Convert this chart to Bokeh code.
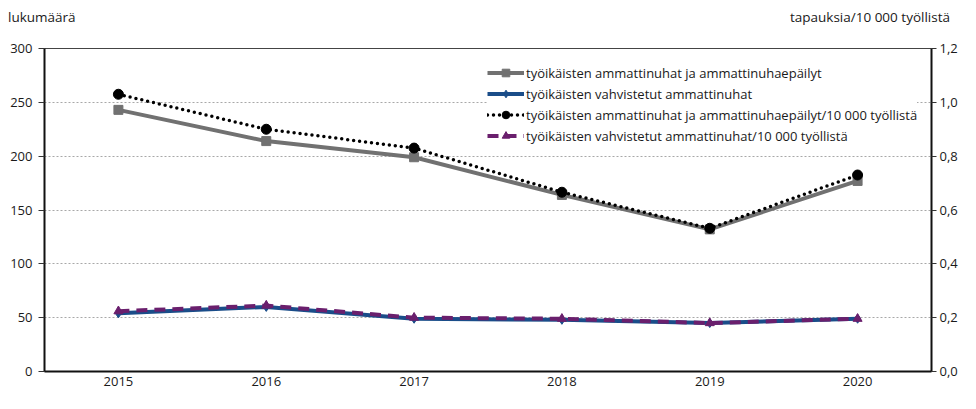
from bokeh.plotting import figure
from bokeh.layouts import column
from bokeh.models import (Range1d, LinearAxis, FixedTicker, CustomJSTickFormatter,
                          Legend, LegendItem, Div)
from bokeh.embed import file_html
from bokeh.resources import INLINE

years = [2015, 2016, 2017, 2018, 2019, 2020]
all_cases = [243, 214, 199, 164, 132, 177]          # ammattitaudit ja -epäilyt (lukumäärä)
confirmed = [54, 60, 49, 48, 45, 49]                 # vahvistetut ammattitaudit (lukumäärä)
all_rate = [1.03, 0.90, 0.83, 0.666, 0.532, 0.73]    # /10 000 työllistä
confirmed_rate = [0.224, 0.245, 0.20, 0.196, 0.18, 0.196]  # /10 000 työllistä

left_ticks = [0, 50, 100, 150, 200, 250, 300]
right_ticks = [0.0, 0.2, 0.4, 0.6, 0.8, 1.0, 1.2]

labels = [
    "työikäisten ammattinuhat ja ammattinuhaepäilyt",
    "työikäisten vahvistetut ammattinuhat",
    "työikäisten ammattinuhat ja ammattinuhaepäilyt/10 000 työllistä",
    "työikäisten vahvistetut ammattinuhat/10 000 työllistä",
]
left_title = "lukumäärä"
right_title = "tapauksia/10 000 työllistä"

FONT = "Open Sans"
TXT = "#1a1a1a"
GREY = "#717171"
BLUE = "#1a4d89"
PURPLE = "#6a1f6d"

W = 960
TOP_H = 26
FIG_H = 393 - TOP_H

header = Div(
    text=(f"<div style=\"display:flex;justify-content:space-between;width:{W - 10}px;"
          f"font-family:'{FONT}';font-size:13.5px;line-height:16px;color:{TXT};"
          f"padding-top:9px;padding-left:8px;\"><span>{left_title}</span>"
          f"<span>{right_title}</span></div>"),
    width=W, height=TOP_H, margin=(0, 0, 0, 0),
)

p = figure(width=W, height=FIG_H, output_backend="svg", toolbar_location=None,
           x_range=Range1d(2014.5, 2020.5), y_range=Range1d(0, 300),
           min_border_left=44, min_border_right=25, min_border_top=22, min_border_bottom=22,
           margin=(0, 0, 0, 0))
p.extra_y_ranges = {"right": Range1d(0, 1.2)}

p.outline_line_color = "#444444"
p.outline_line_width = 1
p.background_fill_color = "white"
p.border_fill_color = "white"

p.xgrid.visible = False
p.ygrid.ticker = FixedTicker(ticks=left_ticks)
p.ygrid.grid_line_color = "#a8a8a8"
p.ygrid.grid_line_dash = "2 2"
p.ygrid.grid_line_width = 1

# x axis
xa = p.xaxis[0]
xa.ticker = FixedTicker(ticks=years)
xa.major_tick_out = 0
xa.major_tick_in = 0
xa.minor_tick_out = 0
xa.minor_tick_in = 0
xa.major_label_standoff = 5
xa.axis_line_color = "#111111"
xa.axis_line_width = 2
xa.major_label_text_font = FONT
xa.major_label_text_font_size = "13px"
xa.major_label_text_color = TXT

# left axis
ya = p.yaxis[0]
ya.ticker = FixedTicker(ticks=left_ticks)
ya.major_tick_out = 6
ya.major_tick_in = 0
ya.minor_tick_out = 0
ya.minor_tick_in = 0
ya.major_tick_line_color = "#333333"
ya.major_label_standoff = 6
ya.axis_line_color = "#111111"
ya.axis_line_width = 2
ya.major_label_text_font = FONT
ya.major_label_text_font_size = "13px"
ya.major_label_text_color = TXT

# right axis
ra = LinearAxis(y_range_name="right", ticker=FixedTicker(ticks=right_ticks),
                formatter=CustomJSTickFormatter(code="return tick.toFixed(1).replace('.', ',');"))
ra.major_tick_out = 5
ra.major_tick_in = 0
ra.minor_tick_out = 0
ra.minor_tick_in = 0
ra.major_tick_line_color = "#333333"
ra.major_label_standoff = 3
ra.axis_line_color = "#111111"
ra.axis_line_width = 2
ra.major_label_text_font = FONT
ra.major_label_text_font_size = "13px"
ra.major_label_text_color = TXT
p.add_layout(ra, "right")

# series
r1l = p.line(years, all_cases, line_color=GREY, line_width=4)
r1m = p.scatter(years, all_cases, marker="square", size=9, fill_color=GREY, line_color=GREY)

r3l = p.line(years, all_rate, y_range_name="right", line_color="black", line_width=3.5,
             line_dash="0 6", line_cap="round")
r3m = p.scatter(years, all_rate, y_range_name="right", marker="circle", size=10,
                fill_color="black", line_color="black")

r2l = p.line(years, confirmed, line_color=BLUE, line_width=4)
r2m = p.scatter(years, confirmed, marker="diamond", size=9, fill_color=BLUE, line_color=BLUE)

r4l = p.line(years, confirmed_rate, y_range_name="right", line_color=PURPLE, line_width=4,
             line_dash="11 7")
r4m = p.scatter(years, confirmed_rate, y_range_name="right", marker="triangle", size=9,
                fill_color=PURPLE, line_color=PURPLE)

legend = Legend(items=[
    LegendItem(label=labels[0], renderers=[r1l, r1m]),
    LegendItem(label=labels[1], renderers=[r2l, r2m]),
    LegendItem(label=labels[2], renderers=[r3l, r3m]),
    LegendItem(label=labels[3], renderers=[r4l, r4m]),
], location=(443, 226))
legend.background_fill_color = "white"
legend.background_fill_alpha = 1
legend.border_line_color = None
legend.padding = 6
legend.margin = 0
legend.spacing = 2
legend.glyph_width = 37
legend.glyph_height = 19
legend.label_height = 19
legend.label_standoff = 2
legend.label_text_font = FONT
legend.label_text_font_size = "13px"
legend.label_text_color = TXT
p.add_layout(legend)

layout = column(header, p, spacing=0, margin=(0, 0, 0, 0))

open("out.html", "w").write(file_html(layout, INLINE))
